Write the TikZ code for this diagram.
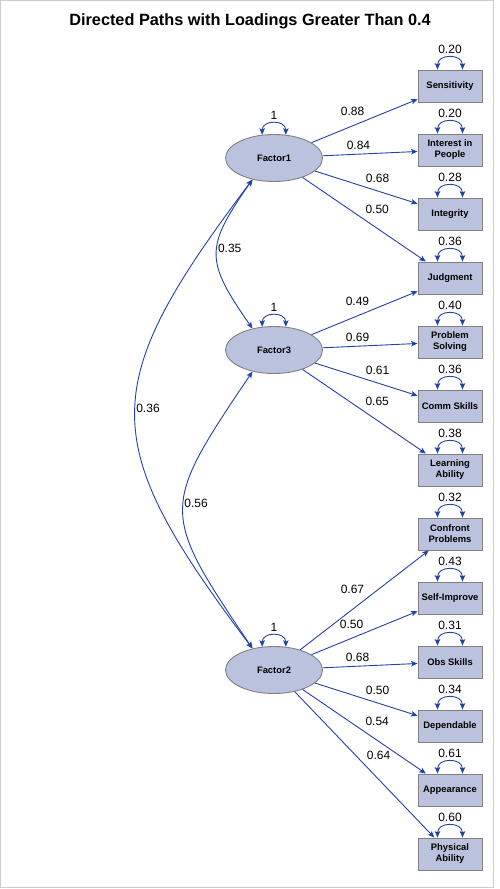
\documentclass[tikz,border=0pt]{standalone}
\usepackage{fontspec}
\setmainfont{Liberation Sans}
\usetikzlibrary{arrows.meta,shapes.geometric}
\definecolor{pathblue}{RGB}{35,65,170}
\definecolor{boxfill}{RGB}{187,194,222}
\definecolor{boxline}{RGB}{128,128,128}
\tikzset{
    >={Stealth[length=6.5pt,width=5.5pt,inset=1.5pt]},
    obsbox/.style={draw=boxline, fill=boxfill, line width=0.9pt, minimum width=64pt, minimum height=32pt, inner sep=0pt, align=center, font=\bfseries\fontsize{9.4}{11}\selectfont},
    factor/.style={ellipse, draw=boxline, fill=boxfill, line width=0.9pt, minimum width=97pt, minimum height=47pt, inner sep=0pt, font=\bfseries\fontsize{9.4}{11}\selectfont},
    load/.style={->, pathblue, line width=0.9pt},
    cov/.style={<->, pathblue, line width=0.9pt},
    var/.style={cov, out=90, in=90, looseness=1.65},
    num/.style={text=black, font=\fontsize{12}{14}\selectfont},
    covnum/.style={num, anchor=west, inner sep=0.5pt}
}
\begin{document}
\begin{tikzpicture}[x=1pt, y=1pt]
        \useasboundingbox (0, 0) rectangle (500, -889);
        \draw[gray!40, line width=1pt] (0.5, -0.5) rectangle (493.5, -887.5);
        \node[font=\bfseries\fontsize{16.3}{19}\selectfont] (title) at (250, -21) {Directed Paths with Loadings Greater Than 0.4};
        \node[factor] (f1) at (274, -158) {Factor1};
        \node[factor] (f3) at (274, -350) {Factor3};
        \node[factor] (f2) at (274, -670) {Factor2};
        \node[obsbox] (sens) at (450, -86) {Sensitivity};
        \node[obsbox] (inter) at (450, -150) {Interest in\\People};
        \node[obsbox] (integ) at (450, -214) {Integrity};
        \node[obsbox] (judg) at (450, -278) {Judgment};
        \node[obsbox] (probl) at (450, -342) {Problem\\Solving};
        \node[obsbox] (comm) at (450, -406) {Comm Skills};
        \node[obsbox] (learn) at (450, -470) {Learning\\Ability};
        \node[obsbox] (confr) at (450, -534) {Confront\\Problems};
        \node[obsbox] (selfimp) at (450, -598) {Self-Improve};
        \node[obsbox] (obs) at (450, -662) {Obs Skills};
        \node[obsbox] (dep) at (450, -726) {Dependable};
        \node[obsbox] (appear) at (450, -790) {Appearance};
        \node[obsbox] (phys) at (450, -854) {Physical\\Ability};
        \draw[load] (f1) -- node[num, pos=0.533, above left] {0.88} (sens);
        \draw[load] (f1) -- node[num, pos=0.54, above left] {0.84} (inter);
        \draw[load] (f1) -- node[num, pos=0.459, above right] {0.68} (integ);
        \draw[load] (f1) -- node[num, pos=0.48, above right] {0.50} (judg);
        \draw[load] (f3) -- node[num, pos=0.579, above left] {0.49} (judg);
        \draw[load] (f3) -- node[num, pos=0.53, above left] {0.69} (probl);
        \draw[load] (f3) -- node[num, pos=0.459, above right] {0.61} (comm);
        \draw[load] (f3) -- node[num, pos=0.48, above right] {0.65} (learn);
        \draw[load] (f2) -- node[num, pos=0.527, above left] {0.67} (confr);
        \draw[load] (f2) -- node[num, pos=0.523, above left] {0.50} (selfimp);
        \draw[load] (f2) -- node[num, pos=0.53, above left] {0.68} (obs);
        \draw[load] (f2) -- node[num, pos=0.459, above right] {0.50} (dep);
        \draw[load] (f2) -- node[num, pos=0.48, above right] {0.54} (appear);
        \draw[load] (f2) -- node[num, pos=0.49, above right] {0.64} (phys);
        \draw[cov] (f1.225) to[out=235, in=125, looseness=1.43] node[covnum, pos=0.45] {0.35} (f3.135);
        \draw[cov] (f1.225) to[out=233, in=127, looseness=1.42] node[covnum, pos=0.485] {0.36} (f2.135);
        \draw[cov] (f3.225) to[out=236, in=124, looseness=1.53] node[covnum, pos=0.47] {0.56} (f2.135);
        \draw[var] (f1.117) to node[num, above] {1} (f1.63);
        \draw[var] (f3.117) to node[num, above] {1} (f3.63);
        \draw[var] (f2.117) to node[num, above] {1} (f2.63);
        \draw[var] ([xshift=-12.5pt]sens.north) to node[num, above] {0.20} ([xshift=12.5pt]sens.north);
        \draw[var] ([xshift=-12.5pt]inter.north) to node[num, above] {0.20} ([xshift=12.5pt]inter.north);
        \draw[var] ([xshift=-12.5pt]integ.north) to node[num, above] {0.28} ([xshift=12.5pt]integ.north);
        \draw[var] ([xshift=-12.5pt]judg.north) to node[num, above] {0.36} ([xshift=12.5pt]judg.north);
        \draw[var] ([xshift=-12.5pt]probl.north) to node[num, above] {0.40} ([xshift=12.5pt]probl.north);
        \draw[var] ([xshift=-12.5pt]comm.north) to node[num, above] {0.36} ([xshift=12.5pt]comm.north);
        \draw[var] ([xshift=-12.5pt]learn.north) to node[num, above] {0.38} ([xshift=12.5pt]learn.north);
        \draw[var] ([xshift=-12.5pt]confr.north) to node[num, above] {0.32} ([xshift=12.5pt]confr.north);
        \draw[var] ([xshift=-12.5pt]selfimp.north) to node[num, above] {0.43} ([xshift=12.5pt]selfimp.north);
        \draw[var] ([xshift=-12.5pt]obs.north) to node[num, above] {0.31} ([xshift=12.5pt]obs.north);
        \draw[var] ([xshift=-12.5pt]dep.north) to node[num, above] {0.34} ([xshift=12.5pt]dep.north);
        \draw[var] ([xshift=-12.5pt]appear.north) to node[num, above] {0.61} ([xshift=12.5pt]appear.north);
        \draw[var] ([xshift=-12.5pt]phys.north) to node[num, above] {0.60} ([xshift=12.5pt]phys.north);
\end{tikzpicture}
\end{document}
